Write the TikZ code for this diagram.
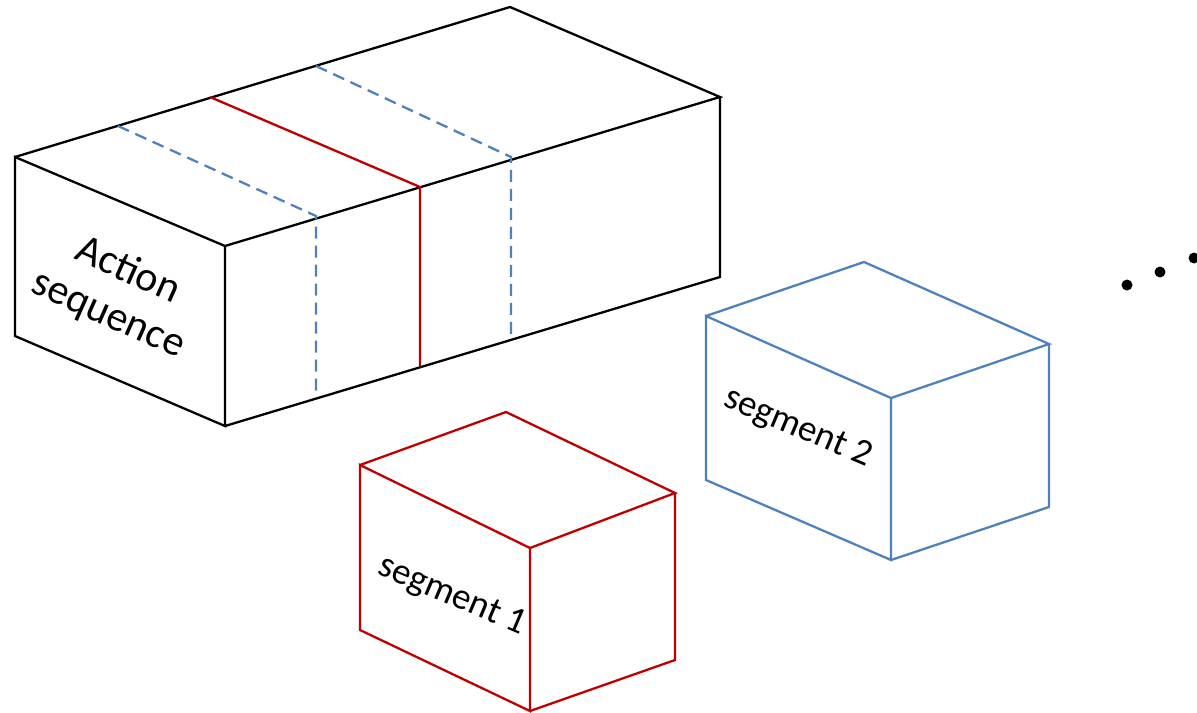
\documentclass[tikz,border=0pt]{standalone}
\usepackage{fontspec}
\setmainfont{Carlito}
\definecolor{segred}{HTML}{C00000}
\definecolor{segblue}{HTML}{4F81BD}
\begin{document}
\begin{tikzpicture}[x=0.5pt,y=-0.5pt,line join=miter,
  edge_black/.style={black,line width=1.15pt},
  edge_red/.style={segred,line width=1.15pt},
  edge_blue/.style={segblue,line width=1.15pt},
  cut_blue/.style={segblue,line width=1.15pt,dash pattern=on 6pt off 3.5pt},
  label/.style={font=\fontsize{18.5}{21}\selectfont,align=center,inner sep=0pt}]
%%
  \useasboundingbox (0,0) rectangle (1197,712);

  % the long box
  \coordinate (seq_0) at (15,157);
  \coordinate (seq_1) at (225,246);
  \coordinate (seq_2) at (225,426);
  \coordinate (seq_3) at (15,336);
  \coordinate (seq_4) at (510,7);
  \coordinate (seq_5) at (720,97);
  \coordinate (seq_6) at (720,277);

  \draw [edge_black] (seq_0) -- (seq_1) -- (seq_2) -- (seq_3) -- cycle;
  \draw [edge_black] (seq_0) -- (seq_4) -- (seq_5) -- (seq_1);
  \draw [edge_black] (seq_5) -- (seq_6) -- (seq_2);

  % cuts across the box
  \coordinate (cut_0a) at (118,126);
  \coordinate (cut_0b) at (316,216);
  \coordinate (cut_0c) at (316,396);
  \coordinate (cut_1a) at (210,97);
  \coordinate (cut_1b) at (420,187);
  \coordinate (cut_1c) at (420,366);
  \coordinate (cut_2a) at (316,66);
  \coordinate (cut_2b) at (511,157);
  \coordinate (cut_2c) at (511,336);

  \draw [cut_blue] (cut_0a) -- (cut_0b) -- (cut_0c);
  \draw [edge_red] (cut_1a) -- (cut_1b) -- (cut_1c);
  \draw [cut_blue] (cut_2a) -- (cut_2b) -- (cut_2c);

  \node (seq_label) at (118,293) [label,rotate=-24,font=\fontsize{21}{24}\selectfont] {Action\\sequence};

  % first segment
  \coordinate (segA_0) at (360,465);
  \coordinate (segA_1) at (530,548);
  \coordinate (segA_2) at (530,711);
  \coordinate (segA_3) at (360,630);
  \coordinate (segA_4) at (506,412);
  \coordinate (segA_5) at (675,493);
  \coordinate (segA_6) at (675,660);

  \draw [edge_red] (segA_0) -- (segA_1) -- (segA_2) -- (segA_3) -- cycle;
  \draw [edge_red] (segA_0) -- (segA_4) -- (segA_5) -- (segA_1);
  \draw [edge_red] (segA_5) -- (segA_6) -- (segA_2);

  \node (segA_label) at (452,596) [label,rotate=-23] {segment 1};

  % second segment
  \coordinate (segB_0) at (706,316);
  \coordinate (segB_1) at (891,398);
  \coordinate (segB_2) at (891,560);
  \coordinate (segB_3) at (706,480);
  \coordinate (segB_4) at (864,262);
  \coordinate (segB_5) at (1049,344);
  \coordinate (segB_6) at (1049,507);

  \draw [edge_blue] (segB_0) -- (segB_1) -- (segB_2) -- (segB_3) -- cycle;
  \draw [edge_blue] (segB_0) -- (segB_4) -- (segB_5) -- (segB_1);
  \draw [edge_blue] (segB_5) -- (segB_6) -- (segB_2);

  \node (segB_label) at (798,428) [label,rotate=-23] {segment 2};

  % more segments follow
  \foreach \i/\x/\y in {0/1127/285, 1/1160/272, 2/1194/258}
    \fill (\x,\y) circle (5.5) coordinate (dot_\i);
%
\end{tikzpicture}
\end{document}
